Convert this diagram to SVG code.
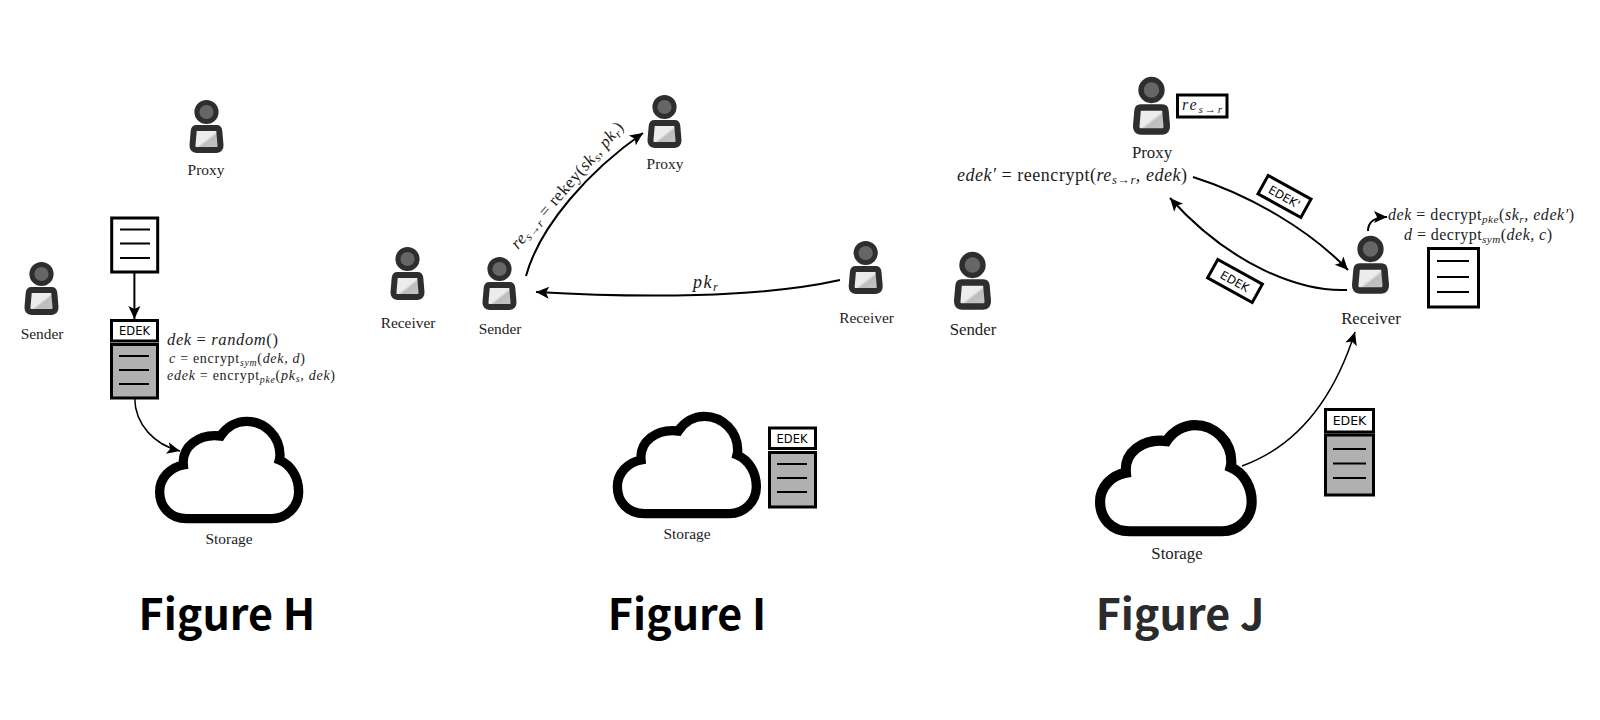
<svg xmlns="http://www.w3.org/2000/svg" width="1600" height="720" viewBox="0 0 1600 720">
<style>
text{font-family:"Liberation Serif","Times New Roman",serif;fill:#1c1c1c}
.lb{font-size:15.4px;text-anchor:middle}
.lj{font-size:16.8px;text-anchor:middle}
.i{font-style:italic}
.s{font-size:70%}
.ed{font-family:"DejaVu Sans",sans-serif;font-size:11.5px;text-anchor:middle;fill:#000}
.t{font-family:"Noto Sans CJK SC","Noto Sans",sans-serif;font-weight:700;font-size:43px;text-anchor:middle;fill:#000}
.box{fill:#fff;stroke:#000;stroke-width:3}
.gbox{fill:#b0b0b0;stroke:#000;stroke-width:3}
.ln{stroke:#000;stroke-width:2;fill:none}
.c{fill:none;stroke:#000;stroke-width:2;marker-end:url(#ah)}
.c2{fill:none;stroke:#000;stroke-width:1.5;marker-end:url(#ah)}
</style>
<defs>
<marker id="ah" markerUnits="userSpaceOnUse" markerWidth="16" markerHeight="14" refX="13" refY="6" orient="auto" overflow="visible"><path d="M0,0 L13,6 L0,12 L3,6 Z" fill="#000"/></marker>
<linearGradient id="scr" x1="0" y1="0" x2="1" y2="1"><stop offset="0.5" stop-color="#ececec"/><stop offset="0.58" stop-color="#bdbdbd"/><stop offset="1" stop-color="#c8c8c8"/></linearGradient>
<g id="person">
<circle cx="0" cy="0" r="9.6" fill="#666" stroke="#2e2e2e" stroke-width="5"/>
<path d="M-10,16 H10 Q12.5,16 12.8,19 L14,33 Q14.2,38 10,38 H-10 Q-14.2,38 -14,33 L-12.8,19 Q-12.5,16 -10,16 Z" fill="url(#scr)" stroke="#2e2e2e" stroke-width="6" stroke-linejoin="round"/>
</g>
<path id="cloud" d="M170,416 C120,416 89,380 89,335 C89,295 120,262 160,255 C155,200 205,160 272,168 C290,140 320,124 350,124 C405,124 450,170 450,225 C450,232 449,236 448,240 C485,255 506,295 506,335 C506,380 470,416 425,416 Z" fill="#fff" stroke="#000" stroke-width="28" stroke-miterlimit="6"/>
</defs>

<g id="connectors">
<path class="c" d="M134.400,272 V319"/>
<path class="c2" d="M134.700,398 C135,425 155,445 180,451"/>
<path class="c" d="M526,276 C540,225 590,170 643,133"/>
<path class="c" d="M840,280 C760,298 640,298 536,292"/>
<path class="c" d="M1193,177 C1250,195 1310,230 1348,270"/>
<path class="c" d="M1347,290 C1300,292 1230,265 1170,198"/>
<path class="c" d="M1368,231 C1368,222 1375,217 1387,217"/>
<path class="c2" d="M1242,466 C1300,445 1335,395 1355,332"/>
</g>

<g id="h-proxy"><use href="#person" x="206.500" y="112"/><text class="lb" x="206" y="175">Proxy</text></g>
<g id="h-sender"><use href="#person" x="41.500" y="274"/><text class="lb" x="42" y="339">Sender</text></g>
<g id="h-doc"><rect class="box" x="111.700" y="218" width="46" height="54"/><path class="ln" d="M120,229.500H150M120,243.500H150M120,258H150"/></g>
<g id="h-edek"><rect class="box" x="111.500" y="320.500" width="46" height="20.500"/><text class="ed" x="134.500" y="334.500">EDEK</text></g>
<g id="h-cipher"><rect class="gbox" x="111.500" y="344.500" width="46" height="53.500"/><path class="ln" d="M119,356H149M119,370H149M119,384H149"/></g>
<g id="h-math">
<text x="167" y="345" font-size="16.500" textLength="111"><tspan class="i">dek</tspan> = <tspan class="i">random</tspan>()</text>
<text x="169" y="363" font-size="14" textLength="136"><tspan class="i">c</tspan> = encrypt<tspan class="i s" dy="2.500">sym</tspan><tspan dy="-2.500">(</tspan><tspan class="i">dek, d</tspan>)</text>
<text x="167" y="380" font-size="14" textLength="168"><tspan class="i">edek</tspan> = encrypt<tspan class="i s" dy="2.500">pke</tspan><tspan dy="-2.500">(</tspan><tspan class="i">pk</tspan><tspan class="i s" dy="2">s</tspan><tspan class="i" dy="-2">, dek</tspan>)</text>
</g>
<g id="h-storage"><use href="#cloud" transform="translate(130,380) scale(.3333)"/><text class="lb" x="229" y="544">Storage</text></g>
<text id="title-h" class="t" x="227" y="630">Figure H</text>

<g id="i-proxy"><use href="#person" x="664.500" y="107"/><text class="lb" x="665" y="169">Proxy</text></g>
<g id="i-receiver-l"><use href="#person" x="407.500" y="259"/><text class="lb" x="408" y="328">Receiver</text></g>
<g id="i-sender"><use href="#person" x="499.500" y="269"/><text class="lb" x="500" y="334">Sender</text></g>
<g id="i-receiver-r"><use href="#person" x="865.700" y="253"/><text class="lb" x="866.500" y="323">Receiver</text></g>
<text transform="translate(518,250) rotate(-49)" font-size="17" textLength="162"><tspan class="i">re</tspan><tspan class="i s" dy="3">s→r</tspan><tspan dy="-3"> = rekey(</tspan><tspan class="i">sk</tspan><tspan class="i s" dy="3">s</tspan><tspan class="i" dy="-3">, pk</tspan><tspan class="i s" dy="3">r</tspan><tspan dy="-3">)</tspan></text>
<text x="693" y="288" font-size="18" textLength="25"><tspan class="i">pk</tspan><tspan class="i s" dy="3">r</tspan></text>
<g id="i-storage"><use href="#cloud" transform="translate(587.700,375) scale(.3333)"/><text class="lb" x="687" y="539">Storage</text></g>
<g id="i-edek"><rect class="box" x="769.500" y="428" width="46" height="20.500"/><text class="ed" x="792" y="442.500">EDEK</text></g>
<g id="i-cipher"><rect class="gbox" x="769.500" y="452.500" width="46" height="54.500"/><path class="ln" d="M777,464H807M777,478H807M777,492H807"/></g>
<text id="title-i" class="t" x="687" y="630">Figure I</text>

<g id="j-proxy"><use href="#person" transform="translate(1151.500,90) scale(1.09)"/><text class="lj" x="1152" y="158">Proxy</text></g>
<g id="j-key"><rect class="box" x="1177.500" y="95" width="49.500" height="22"/><text x="1182" y="110" font-size="16" textLength="40"><tspan class="i">re</tspan><tspan class="i s" dy="3">s→r</tspan></text></g>
<text x="957" y="181" font-size="18" textLength="230"><tspan class="i">edek′</tspan> = reencrypt(<tspan class="i">re</tspan><tspan class="i s" dy="3">s→r</tspan><tspan class="i" dy="-3">, edek</tspan>)</text>
<g id="j-sender"><use href="#person" transform="translate(972.500,265) scale(1.09)"/><text class="lj" x="973" y="335">Sender</text></g>
<g id="j-receiver"><use href="#person" transform="translate(1370.500,249) scale(1.09)"/><text class="lj" x="1371" y="324">Receiver</text></g>
<g id="j-edek1" transform="translate(1284.500,196.500) rotate(29)"><rect class="box" x="-24.500" y="-10.500" width="49" height="21"/><text class="ed" x="0" y="4.500">EDEK'</text></g>
<g id="j-edek2" transform="translate(1235,281) rotate(29)"><rect class="box" x="-25.500" y="-10.500" width="51" height="21"/><text class="ed" x="0" y="4.500">EDEK</text></g>
<text x="1388" y="220" font-size="16" textLength="186"><tspan class="i">dek</tspan> = decrypt<tspan class="i s" dy="3">pke</tspan><tspan dy="-3">(</tspan><tspan class="i">sk</tspan><tspan class="i s" dy="3">r</tspan><tspan class="i" dy="-3">, edek′</tspan>)</text>
<text x="1404" y="240" font-size="16" textLength="148"><tspan class="i">d</tspan> = decrypt<tspan class="i s" dy="3">sym</tspan><tspan dy="-3">(</tspan><tspan class="i">dek, c</tspan>)</text>
<g id="j-doc"><rect class="box" x="1428.500" y="248.500" width="50" height="58.500"/><path class="ln" d="M1437,261H1469M1437,277H1469M1437,292H1469"/></g>
<g id="j-edek"><rect class="box" x="1325.500" y="409.500" width="48" height="22.500"/><text class="ed" x="1349.500" y="425" style="font-size:12.500px">EDEK</text></g>
<g id="j-cipher"><rect class="gbox" x="1325.500" y="435" width="48" height="60"/><path class="ln" d="M1333,449H1366M1333,463.500H1366M1333,478H1366"/></g>
<g id="j-storage"><use href="#cloud" transform="translate(1067.700,380) scale(.3636)"/><text class="lj" x="1177" y="559">Storage</text></g>
<text id="title-j" class="t" x="1180" y="630" style="fill:#2b2b2b">Figure J</text>
</svg>
